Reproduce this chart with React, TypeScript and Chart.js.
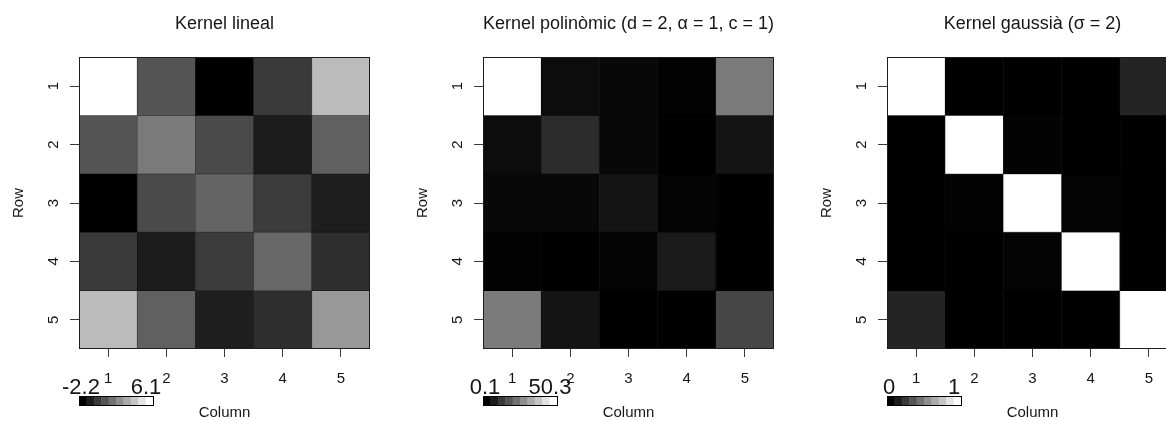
import React, { useEffect, useRef } from 'react';
import { Chart, registerables } from 'chart.js';

Chart.register(...registerables);

// ---- data ----
const columnLabels = ['1', '2', '3', '4', '5'];
const rowLabels = ['1', '2', '3', '4', '5'];
const rowPositions = [1, 2, 3, 4, 5];

const linearValues = [
  [6.1, 0.57, -2.2, -0.31, 3.89],
  [0.57, 1.77, 0.21, -1.29, 0.93],
  [-2.2, 0.21, 1.06, -0.25, -1.22],
  [-0.31, -1.29, -0.25, 1.19, -0.7],
  [3.89, 0.93, -1.22, -0.7, 2.75],
];

const polyValues = [
  [50.3, 2.46, 1.67, 0.49, 24.1],
  [2.46, 8.76, 1.67, 0.3, 4.04],
  [1.67, 1.67, 4.04, 0.89, 0.3],
  [0.49, 0.3, 0.89, 5.22, 0.1],
  [24.1, 4.04, 0.1, 0.1, 13.9],
];

const gaussValues = [
  [1, 0.004, 0.0, 0.002, 0.14],
  [0.004, 1, 0.012, 0.004, 0.002],
  [0.0, 0.012, 1, 0.016, 0.001],
  [0.002, 0.004, 0.016, 1, 0.003],
  [0.14, 0.002, 0.001, 0.003, 1],
];

const panelTitles = [
  'Kernel lineal',
  'Kernel polinòmic (d = 2, α = 1, c = 1)',
  'Kernel gaussià (σ = 2)',
];
const legendMinLabels = ['-2.2', '0.1', '0'];
const legendMaxLabels = ['6.1', '50.3', '1'];
const legendMinValues = [-2.2, 0.1, 0];
const legendMaxValues = [6.1, 50.3, 1];
const panelMatrices = [linearValues, polyValues, gaussValues];

const xAxisTitle = 'Column';
const yAxisTitle = 'Row';

const FONT = '"Liberation Sans", Arial, sans-serif';
const TEXT = '#161616';

function greyLevel(v: number, lo: number, hi: number) {
  const t = Math.max(0, Math.min(1, (v - lo) / (hi - lo)));
  return Math.round(t * 255);
}
function rgb(g: number) {
  return `rgb(${g},${g},${g})`;
}

const annotPlugin = {
  id: 'annot',
  afterDraw(chart: any, _args: any, opts: any) {
    const { ctx, chartArea: a } = chart;
    ctx.save();
    // box
    ctx.strokeStyle = '#1e1e1e';
    ctx.lineWidth = 1;
    ctx.strokeRect(Math.round(a.left) + 0.5, Math.round(a.top) + 0.5, Math.round(a.right - a.left) - 1, Math.round(a.bottom - a.top) - 1);
    const cx = (a.left + a.right) / 2;
    ctx.fillStyle = TEXT;
    // title
    ctx.font = `18px ${FONT}`;
    ctx.textAlign = 'center';
    ctx.textBaseline = 'alphabetic';
    ctx.fillText(opts.title, cx, 29);
    // x title
    ctx.font = `15px ${FONT}`;
    ctx.fillText(xAxisTitle, cx, 417);
    // y title
    ctx.save();
    ctx.translate(23, (a.top + a.bottom) / 2);
    ctx.rotate(-Math.PI / 2);
    ctx.fillText(yAxisTitle, 0, 0);
    ctx.restore();
    // colour key
    const kx = 79, ky = 396, kw = 74, kh = 9, n = 10;
    for (let i = 0; i < n; i++) {
      const g = Math.round((i / (n - 1)) * 255);
      ctx.fillStyle = rgb(g);
      ctx.fillRect(kx + (i * kw) / n, ky, kw / n + 0.5, kh);
    }
    ctx.strokeStyle = '#000';
    ctx.strokeRect(kx + 0.5, ky + 0.5, kw, kh);
    ctx.fillStyle = TEXT;
    ctx.font = `22px ${FONT}`;
    ctx.fillText(opts.minLabel, 81, 394);
    ctx.fillText(opts.maxLabel, 146, 394);
    ctx.restore();
  },
};

function Panel({ idx }: { idx: number }) {
  const ref = useRef<HTMLCanvasElement>(null);
  useEffect(() => {
    const matrix = panelMatrices[idx];
    const lo = legendMinValues[idx];
    const hi = legendMaxValues[idx];
    const datasets = rowPositions.map((r, ri) => ({
      label: 'Row ' + rowLabels[ri],
      data: matrix[ri].map(() => [r - 0.5, r + 0.5]),
      backgroundColor: matrix[ri].map((v) => rgb(greyLevel(v, lo, hi))),
      borderColor: matrix[ri].map((v) => rgb(Math.round(greyLevel(v, lo, hi) * 0.6))),
      borderWidth: 0.75,
      borderSkipped: false,
      barPercentage: 1,
      categoryPercentage: 1,
      grouped: false,
    }));
    const chart = new Chart(ref.current as HTMLCanvasElement, {
      type: 'bar',
      data: { labels: columnLabels, datasets: datasets as any },
      plugins: [annotPlugin],
      options: {
        responsive: false,
        maintainAspectRatio: false,
        animation: false,
        layout: { padding: { left: 0, right: 34, top: 57, bottom: 0 } },
        plugins: {
          legend: { display: false },
          tooltip: { enabled: false },
          annot: {
            title: panelTitles[idx],
            minLabel: legendMinLabels[idx],
            maxLabel: legendMaxLabels[idx],
          },
        } as any,
        scales: {
          x: {
            type: 'category',
            offset: true,
            grid: { display: true, drawOnChartArea: false, drawTicks: true, tickLength: 8, offset: false, color: '#3a3a3a', lineWidth: 1 },
            border: { display: false },
            ticks: { color: TEXT, font: { size: 15, family: FONT }, padding: 13, maxRotation: 0, minRotation: 0 },
            afterFit: (s: any) => { s.height = 72; },
          },
          y: {
            type: 'linear',
            min: 0.5,
            max: 5.5,
            reverse: true,
            afterBuildTicks: (s: any) => { s.ticks = rowPositions.map((v) => ({ value: v })); },
            grid: { display: true, drawOnChartArea: false, drawTicks: true, tickLength: 9, color: '#3a3a3a', lineWidth: 1 },
            border: { display: false },
            ticks: {
              color: TEXT,
              font: { size: 15, family: FONT },
              padding: 12,
              minRotation: 90,
              maxRotation: 90,
              crossAlign: 'center',
              callback: (v: any) => rowLabels[rowPositions.indexOf(Number(v))] ?? '',
            },
            afterFit: (s: any) => { s.width = 79; },
          },
        } as any,
      },
    });
    return () => chart.destroy();
  }, [idx]);
  return (
    <canvas
      ref={ref}
      width={404}
      height={421}
      style={{ position: 'absolute', left: idx * 404, top: 0, width: 404, height: 421 }}
    />
  );
}

export default function App() {
  return (
    <div style={{ position: 'fixed', left: 0, top: 0, width: 1166, height: 421, overflow: 'hidden', background: '#fff' }}>
      <Panel idx={0} />
      <Panel idx={1} />
      <Panel idx={2} />
    </div>
  );
}
